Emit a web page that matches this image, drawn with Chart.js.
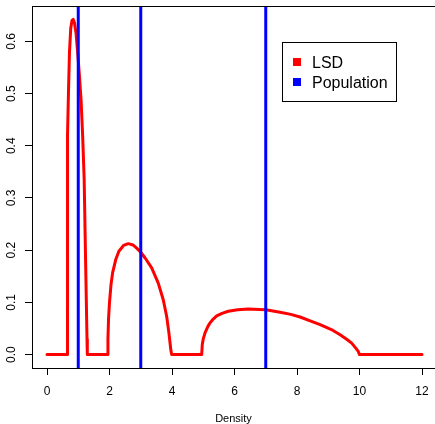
<!DOCTYPE html>
<html>
<head>
<meta charset="utf-8">
<script src="https://cdn.jsdelivr.net/npm/chart.js@4/dist/chart.umd.min.js"></script>
<style>
  html, body { margin: 0; padding: 0; background: #fff; overflow: hidden; }
</style>
</head>
<body>
<canvas id="chart" width="435" height="424"></canvas>
<script>
// LSD curve
const lsdX = [0, 0.64, 0.645, 0.655, 0.67, 0.69, 0.72, 0.76, 0.80, 0.84, 0.88, 0.93, 0.98, 1.03, 1.09, 1.14, 1.19, 1.22, 1.25, 1.28, 1.29,
  1.93, 1.95, 1.97, 2.0, 2.05, 2.1, 2.2, 2.3, 2.45, 2.6, 2.75, 2.87, 3.0, 3.14, 3.35, 3.56, 3.72, 3.83, 3.90, 3.96, 3.99,
  4.95, 4.97, 5.0, 5.06, 5.15, 5.22, 5.32, 5.43, 5.6, 5.8, 6.1, 6.44, 6.8, 7.0, 7.46, 7.8, 8.1, 8.4, 8.74, 9.1, 9.38, 9.6, 9.75, 9.9, 9.96, 10.0, 12];
const lsdY = [0, 0, 0.15, 0.30, 0.42, 0.51, 0.58, 0.625, 0.64, 0.642, 0.635, 0.615, 0.58, 0.54, 0.488, 0.42, 0.335, 0.23, 0.13, 0.03, 0,
  0, 0.03, 0.07, 0.10, 0.135, 0.157, 0.182, 0.198, 0.209, 0.2125, 0.21, 0.204, 0.196, 0.185, 0.166, 0.137, 0.105, 0.073, 0.042, 0.01, 0,
  0, 0.02, 0.03, 0.042, 0.054, 0.061, 0.068, 0.074, 0.079, 0.083, 0.086, 0.0875, 0.0865, 0.086, 0.081, 0.077, 0.072, 0.065, 0.0575, 0.048, 0.038, 0.029, 0.022, 0.011, 0.006, 0, 0];

// population eigenvalues (vertical lines)
const population = [1, 3, 7];

const xTicks = [0, 2, 4, 6, 8, 10, 12];
const yTicks = [0, 0.1, 0.2, 0.3, 0.4, 0.5, 0.6];

const legendLabels = ['LSD', 'Population'];
const legendColors = ['#ff0000', '#0000ff'];

const xMin = -0.48, xMax = 12.416;
const yMin = -0.0257, yMax = 0.6677;

Chart.defaults.font.family = '"Liberation Sans", Arial, sans-serif';
Chart.defaults.color = '#000';

const datasets = [{
  label: 'LSD',
  data: lsdX.map((x, i) => ({ x: x, y: lsdY[i] })),
  borderColor: '#ff0000',
  borderWidth: 3,
  borderJoinStyle: 'round',
  borderCapStyle: 'round',
  pointRadius: 0,
  showLine: true,
  order: 1
}];

population.forEach(p => {
  datasets.push({
    label: 'Population',
    data: [{ x: p, y: yMin }, { x: p, y: yMax }],
    borderColor: '#0000ff',
    borderWidth: 3,
    pointRadius: 0,
    showLine: true,
    clip: 0,
    order: 0
  });
});

// box legend + top border of the plot region
const extras = {
  id: 'extras',
  afterDraw(chart) {
    const ctx = chart.ctx;
    const a = chart.chartArea;
    ctx.save();
    ctx.strokeStyle = '#000';
    ctx.lineWidth = 1;
    ctx.beginPath();
    ctx.moveTo(a.left, Math.round(a.top) + 0.5);
    ctx.lineTo(a.right, Math.round(a.top) + 0.5);
    ctx.stroke();

    ctx.fillStyle = '#fff';
    ctx.fillRect(282.5, 42.5, 114, 59);
    ctx.strokeRect(282.5, 42.5, 114, 59);
    ctx.font = '16px "Liberation Sans", Arial, sans-serif';
    ctx.textBaseline = 'alphabetic';
    legendLabels.forEach((lab, i) => {
      const cy = 62 + i * 20;
      ctx.fillStyle = legendColors[i];
      ctx.fillRect(293, cy - 4, 8, 8);
      ctx.fillStyle = '#000';
      ctx.fillText(lab, 312, cy + 6);
    });
    ctx.restore();
  }
};

new Chart(document.getElementById('chart'), {
  type: 'scatter',
  data: { datasets: datasets },
  options: {
    responsive: false,
    animation: false,
    layout: { padding: { top: 6, right: 0, left: 0, bottom: 0 } },
    plugins: { legend: { display: false }, tooltip: { enabled: false } },
    scales: {
      x: {
        type: 'linear',
        min: xMin,
        max: xMax,
        afterBuildTicks: s => { s.ticks = xTicks.map(v => ({ value: v })); },
        afterFit: s => { s.height = 56; s.paddingLeft = 0; s.paddingRight = 0; },
        grid: { drawOnChartArea: false, drawTicks: true, tickLength: 7, tickColor: '#000' },
        border: { color: '#000', width: 1 },
        ticks: { font: { size: 12 }, padding: 9, maxRotation: 0, callback: v => String(v) },
        title: { display: true, text: 'Density', font: { size: 11 }, padding: { top: 0, bottom: -2 } }
      },
      y: {
        type: 'linear',
        min: yMin,
        max: yMax,
        afterBuildTicks: s => { s.ticks = yTicks.map(v => ({ value: v })); },
        afterFit: s => { s.width = 32; s.paddingTop = 0; s.paddingBottom = 0; },
        grid: { drawOnChartArea: false, drawTicks: true, tickLength: 7, tickColor: '#000' },
        border: { color: '#000', width: 1 },
        ticks: { font: { size: 12 }, padding: 5, minRotation: 90, maxRotation: 90, crossAlign: 'center', callback: v => v.toFixed(1) }
      }
    }
  },
  plugins: [extras]
});
</script>
</body>
</html>
